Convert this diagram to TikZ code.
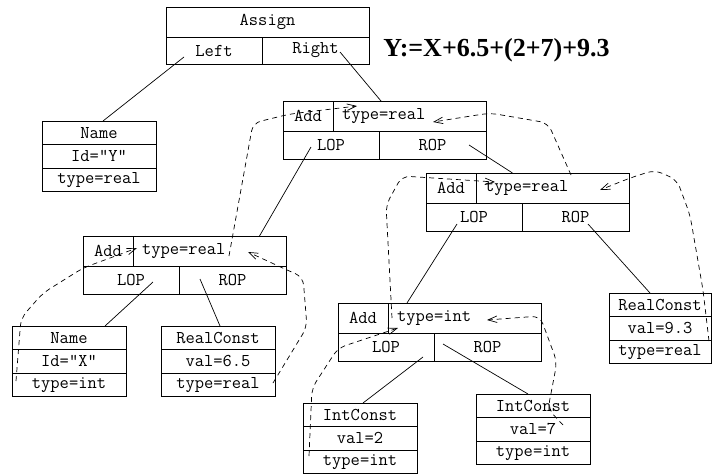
\documentclass[tikz,border=0pt]{standalone}
\usepackage{fontspec}
\usepackage{tikz}
\usetikzlibrary{arrows.meta}
\newfontfamily\titlefont{Liberation Serif}

\begin{document}
\begin{tikzpicture}[x=1pt,y=-1pt,line width=0.7pt,>={Straight Barb[length=9pt,width=6.5pt]}]
    \tikzstyle{cell}=[draw=black, line width=0.9pt, rectangle, inner sep=0pt, outer sep=0pt, anchor=north west, font=\ttfamily\fontsize{18pt}{20pt}\selectfont]
    \tikzstyle{opcell}=[cell, minimum width=50pt, minimum height=30pt]
    \tikzstyle{typecell}=[cell, minimum width=153pt, minimum height=30pt, text width=135pt, align=left]
    \tikzstyle{lcell}=[cell, minimum width=96pt, minimum height=28pt]
    \tikzstyle{rcell}=[cell, minimum width=107pt, minimum height=28pt]
    \tikzstyle{leaf}=[cell, minimum width=114pt, minimum height=23.5pt]
    \tikzstyle{tree}=[line width=0.7pt]
    \tikzstyle{dep}=[->, dash pattern=on 5pt off 4pt, line width=0.7pt, rounded corners=8pt]

    \useasboundingbox (0,0) rectangle (712,474);

    \node[cell, minimum width=203pt, minimum height=30pt] (asg) at (166,7) {Assign};
    \node[lcell, minimum height=27pt] (asgl) at (asg.south west) {Left};
    \node[rcell, minimum height=27pt] (asgr) at (asgl.north east) {Right};
    \node[anchor=base west, inner sep=0pt, font=\titlefont\bfseries\fontsize{26pt}{30pt}\selectfont] (expr) at (383,56) {Y:=X+6.5+(2+7)+9.3};

    \node[opcell] (add1) at (283,101) {Add};
    \node[typecell] (ty1) at (add1.north east) {type=real};
    \node[lcell] (lop1) at (add1.south west) {LOP};
    \node[rcell] (rop1) at (lop1.north east) {ROP};

    \node[opcell] (add2) at (426,173) {Add};
    \node[typecell] (ty2) at (add2.north east) {type=real};
    \node[lcell] (lop2) at (add2.south west) {LOP};
    \node[rcell] (rop2) at (lop2.north east) {ROP};

    \node[opcell] (add3) at (83,236) {Add};
    \node[typecell] (ty3) at (add3.north east) {type=real};
    \node[lcell] (lop3) at (add3.south west) {LOP};
    \node[rcell] (rop3) at (lop3.north east) {ROP};

    \node[opcell] (add4) at (338,303) {Add};
    \node[typecell] (ty4) at (add4.north east) {type=int};
    \node[lcell] (lop4) at (add4.south west) {LOP};
    \node[rcell] (rop4) at (lop4.north east) {ROP};

    \node[leaf] (namey) at (42,121) {Name};
    \node[leaf] (idy) at (namey.south west) {Id="Y"};
    \node[leaf] (tyy) at (idy.south west) {type=real};

    \node[leaf] (namex) at (12,326) {Name};
    \node[leaf] (idx) at (namex.south west) {Id="X"};
    \node[leaf] (tyx) at (idx.south west) {type=int};

    \node[leaf] (rc1) at (161,326) {RealConst};
    \node[leaf] (val1) at (rc1.south west) {val=6.5};
    \node[leaf] (tyrc1) at (val1.south west) {type=real};

    \node[leaf, minimum width=102pt] (rc2) at (609,293) {RealConst};
    \node[leaf, minimum width=102pt] (val2) at (rc2.south west) {val=9.3};
    \node[leaf, minimum width=102pt] (tyrc2) at (val2.south west) {type=real};

    \node[leaf] (ic1) at (303,403) {IntConst};
    \node[leaf] (ival1) at (ic1.south west) {val=2};
    \node[leaf] (tyic1) at (ival1.south west) {type=int};

    \node[leaf] (ic2) at (476,394) {IntConst};
    \node[leaf] (ival2) at (ic2.south west) {val=7};
    \node[leaf] (tyic2) at (ival2.south west) {type=int};

    \path
     ([shift={(-30,6.5)}]asgl.center) edge[tree] ([shift={(4,0)}]namey.north)
     ([shift={(24.5,1.5)}]asgr.center) edge[tree] ([shift={(-28.5,0)}]ty1.north)
     ([shift={(-20,2)}]lop1.center) edge[tree] ([shift={(50,0)}]ty3.north)
     ([shift={(36.5,0)}]rop1.center) edge[tree] ([shift={(-40,0)}]ty2.north)
     ([shift={(-17,7)}]lop2.center) edge[tree] ([shift={(-57.5,0)}]ty4.north)
     ([shift={(12.5,7)}]rop2.center) edge[tree] ([shift={(-10,0)}]rc2.north)
     ([shift={(22,2)}]lop3.center) edge[tree] ([shift={(36,0)}]namex.north)
     ([shift={(-32.5,-1)}]rop3.center) edge[tree] ([shift={(2,0)}]rc1.north)
     ([shift={(37,10)}]lop4.center) edge[tree] ([shift={(3,0)}]ic1.north)
     ([shift={(-44.5,-3)}]rop4.center) edge[tree] ([shift={(-5,0)}]ic2.north)
     ;

    \draw[dep] ([shift={(19.5,5)}]ty3.center) -- (253,123) -- (290,114) -- ([shift={(-52.5,-10)}]ty1.center);
    \draw[dep] ([shift={(18.5,-13)}]ty2.center) -- (548,123) -- (490,113) -- ([shift={(23.5,6)}]ty1.center);
    \draw[dep] ([shift={(-72.5,0)}]ty4.center) -- (386,205) -- (402,176) -- ([shift={(-57.5,-6)}]ty2.center);
    \draw[dep] ([shift={(49,12.75)}]val2.center) -- (703,290) -- (690,215) -- (677,180) -- (655,170) -- (630,178) -- ([shift={(47.5,2)}]ty2.center);
    \draw[dep] ([shift={(-53,-3.75)}]tyx.center) -- (21,318) -- (43,293) -- (83,268) -- ([shift={(-72.5,-3)}]ty3.center);
    \draw[dep] ([shift={(55,-1.75)}]tyrc1.center) -- (307,327) -- (303,277) -- (287,270) -- ([shift={(38.5,1)}]ty3.center);
    \draw[dep] ([shift={(-51,-5.75)}]tyic1.center) -- (312,388) -- (338,348) -- ([shift={(-66.5,10)}]ty4.center);
    \draw[dep] ([shift={(30,-4.25)}]ival2.center) -- (548,409) -- (557,362) -- (540,316) -- ([shift={(22.5,2)}]ty4.center);
\end{tikzpicture}
\end{document}
